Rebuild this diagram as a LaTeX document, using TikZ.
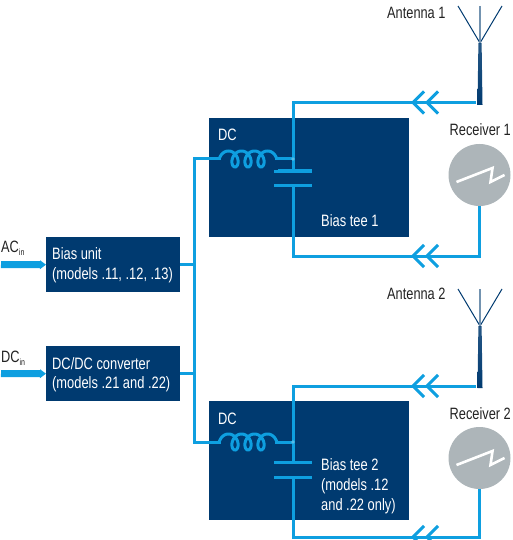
\documentclass[tikz,border=0pt]{standalone}
\usepackage{fontspec}
\setmainfont[FakeStretch=0.78]{Liberation Sans}
\usetikzlibrary{arrows.meta}
\definecolor{navy}{HTML}{003A70}
\definecolor{wire}{HTML}{0E9FE0}
\definecolor{disc}{HTML}{ADB5B9}
\definecolor{ink}{HTML}{222222}
\tikzset{
  x=1pt,y=-1pt,
  box/.style={fill=navy,draw=none,inner sep=0pt,anchor=north west},
  wirel/.style={draw=wire,line width=3pt,line join=miter},
  intxt/.style={text=white,font=\fontsize{16.5}{20}\selectfont,anchor=west,inner sep=0pt,align=left},
  lbl/.style={text=ink,font=\fontsize{16.4}{20}\selectfont,inner sep=0pt},
  feed/.style={draw=wire,line width=7pt,-{Triangle[length=6pt,width=8.5pt]}},
  rx/.style={circle,fill=disc,draw=none,minimum size=62pt,inner sep=0pt},
  chevrons/.pic={
    \draw[wire,line width=3pt] (11,-11) -- (0,0) -- (11,11);
    \draw[wire,line width=3pt] (25,-11) -- (14,0) -- (25,11);
  },
  coil/.pic={
    \draw[wire,line width=3pt,smooth] plot[domain=-90:1170,samples=170,variable=\t]
      ({13*(\t-180)/360+6*sin(\t)},{-8*cos(\t)});
  },
  antenna/.pic={
    \shade[top color=navy!85,bottom color=navy] (-1.6,0) -- (1.6,0) -- (2.5,62) -- (-2.5,62) -- cycle;
    \draw[navy,line width=1pt] (-22,-37) -- (0,0) -- (22,-37);
    \draw[navy!55,line width=1.4pt] (0,-37) -- (0,0);
  },
  zig/.pic={
    \draw[white,line width=2.6pt,line join=miter] (-23,7) -- (13,-7) -- (11,7) -- (25,0);
  }
}
\begin{document}
\begin{tikzpicture}
\useasboundingbox (0,0) rectangle (512,540);
\clip (0,0) rectangle (512,540);
% boxes
\node[box,minimum width=200pt,minimum height=119pt] (tee1) at (209,118) {};
\node[box,minimum width=200pt,minimum height=119pt] (tee2) at (209,401) {};
\node[box,minimum width=134pt,minimum height=55pt] (bias) at (46,237) {};
\node[box,minimum width=134pt,minimum height=55pt] (conv) at (46,346) {};
% receivers and antennas
\node[rx] (rx1) at (479.5,175) {};
\node[rx] (rx2) at (479.5,458) {};
\pic at (480,43) {antenna};
\pic at (480,326) {antenna};
\pic at (479.5,175) {zig};
\pic at (479.5,458) {zig};
\coordinate (ant1) at (476,102.5);
\coordinate (ant2) at (476,386);
% named points
\coordinate (bustop) at (194.5,159);
\coordinate (busbot) at (194.5,442);
\coordinate (j1) at (293,159);
\coordinate (j2) at (293,442);
\coordinate (c1a) at (293,171);
\coordinate (c1b) at (293,185);
\coordinate (c2a) at (293,462);
\coordinate (c2b) at (293,477);
\coordinate (acin) at (1,264.5);
\coordinate (dcin) at (1,373.5);
% feeds
\draw[feed] (acin) -- (bias.west);
\draw[feed] (dcin) -- (conv.west);
% bus
\draw[wirel] (bias.east) -- (bias.east -| bustop);
\draw[wirel] (conv.east) -- (conv.east -| bustop);
\draw[wirel] (j1) -- (bustop) -- (busbot) -- (j2);
% tee 1 / tee 2 wires
\draw[wirel] (ant1) -- (ant1 -| j1) -- (c1a);
\draw[wirel] (rx1.south) |- (c1b |- 0,256) -- (c1b);
\draw[wirel] (ant2) -- (ant2 -| j2) -- (c2a);
\draw[wirel] (rx2.south) |- (c2b |- 0,537) -- (c2b);
% capacitor plates
\draw[wirel] (274,171) -- (312,171) (274,185) -- (312,185);
\draw[wirel] (274,462) -- (312,462) (274,477) -- (312,477);
% coils
\fill[navy] (221,148) rectangle (278,170);
\fill[navy] (221,431) rectangle (278,453);
\pic at (235,159) {coil};
\pic at (235,442) {coil};
\draw[wirel] (209,159) -- (221,159);
\draw[wirel] (209,442) -- (221,442);
\draw[wirel] (275,159) -- (j1);
\draw[wirel] (275,442) -- (j2);
\fill[wire!70!white] (j1) circle (1.8);
\fill[wire!70!white] (j2) circle (1.8);
% chevrons
\pic at (413,102.5) {chevrons};
\pic at (413,256) {chevrons};
\pic at (413,386) {chevrons};
\pic at (413,537) {chevrons};
% text
\node[intxt] (tdc1) at (218,135) {DC};
\node[intxt] (tdc2) at (218,419) {DC};
\node[intxt] (tt1) at (321,220.5) {Bias tee 1};
\node[intxt,anchor=north west] (tt2) at (321,458) {Bias tee 2\\(models .12\\and .22 only)};
\node[intxt] (tb1) at (52,254) {Bias unit};
\node[intxt] (tb2) at (52,275) {(models .11, .12, .13)};
\node[intxt] (tc1) at (52,364) {DC/DC converter};
\node[intxt] (tc2) at (52,384) {(models .21 and .22)};
\node[lbl,anchor=west] (a1) at (387,12.5) {Antenna 1};
\node[lbl,anchor=west] (a2) at (387,293.5) {Antenna 2};
\node[lbl,anchor=west] (r1) at (449.5,129.5) {Receiver 1};
\node[lbl,anchor=west] (r2) at (449.5,414) {Receiver 2};
\node[lbl,anchor=west] (ac) at (1,248) {AC\raisebox{-3pt}{\fontsize{9}{9}\selectfont in}};
\node[lbl,anchor=west] (dc) at (1,358) {DC\raisebox{-3pt}{\fontsize{9}{9}\selectfont in}};
\end{tikzpicture}
\end{document}
